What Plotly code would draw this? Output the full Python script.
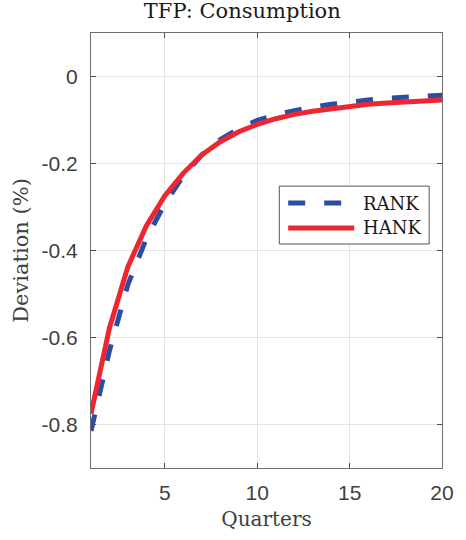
import plotly.graph_objects as go

quarters = list(range(1, 21))
rank = [-0.815, -0.630, -0.478, -0.372, -0.292, -0.228, -0.180, -0.145, -0.120, -0.101,
        -0.088, -0.078, -0.070, -0.064, -0.058, -0.054, -0.050, -0.047, -0.045, -0.043]
hank = [-0.775, -0.578, -0.437, -0.343, -0.274, -0.222, -0.180, -0.150, -0.127, -0.110,
        -0.097, -0.087, -0.080, -0.074, -0.068, -0.064, -0.061, -0.058, -0.056, -0.054]

xticks = [5, 10, 15, 20]
yticks = [0, -0.2, -0.4, -0.6, -0.8]
ytick_text = ["0", "-0.2", "-0.4", "-0.6", "-0.8"]

series_names = ["RANK", "HANK"]
series_colors = ["#2B4EA5", "#EE2631"]
series_dash = ["17px,19px", "solid"]

serif = "DejaVu Serif, Liberation Serif, serif"
sans = "Liberation Sans, Arial, sans-serif"

fig = go.Figure()
for name, ys, color, dash in zip(series_names, [rank, hank], series_colors, series_dash):
    fig.add_trace(go.Scatter(x=quarters, y=ys, mode="lines", name=name,
                             line=dict(color=color, width=5, dash=dash)))

# zero reference line
fig.add_shape(type="line", xref="paper", x0=0, x1=1, yref="y", y0=0, y1=0,
              line=dict(color="black", width=1), layer="below")

# boxed legend with long line samples (paper coordinates)
fig.add_shape(type="rect", xref="paper", yref="paper", x0=0.5365, x1=0.9635, y0=0.515, y1=0.648,
              line=dict(color="#555555", width=1), fillcolor="white", layer="above")
legend_rows = [0.609, 0.552]
for name, color, dash, ly in zip(series_names, series_colors, series_dash, legend_rows):
    fig.add_shape(type="line", xref="paper", yref="paper", x0=0.5618, x1=0.75, y0=ly, y1=ly,
                  line=dict(color=color, width=5, dash=dash), layer="above")
    fig.add_annotation(xref="paper", yref="paper", x=0.768, y=ly, xanchor="left", yanchor="middle",
                       text=name, showarrow=False,
                       font=dict(family=serif, size=18, color="#1a1a1a"))

axis_common = dict(showline=True, linecolor="#6e6e6e", linewidth=1, mirror="allticks",
                   ticks="inside", ticklen=5, tickcolor="#4d4d4d",
                   showgrid=True, gridcolor="#e3e3e3", gridwidth=1, zeroline=False,
                   tickfont=dict(family=sans, size=21, color="#404040"))

fig.update_layout(
    width=466, height=540,
    margin=dict(l=91, r=19, t=33, b=72),
    paper_bgcolor="white", plot_bgcolor="white",
    showlegend=False,
    title=dict(text="TFP: Consumption", x=0.52, xanchor="center", y=0.993, yanchor="top",
               font=dict(family=serif, size=21, color="#1a1a1a")),
    xaxis=dict(range=[1, 20], tickvals=xticks, ticklabelstandoff=6,
               title=dict(text="Quarters", font=dict(family=serif, size=20, color="#404040"), standoff=8),
               **axis_common),
    yaxis=dict(range=[-0.9, 0.1], tickvals=yticks, ticktext=ytick_text, ticklabelstandoff=8,
               title=dict(text="Deviation (%)", font=dict(family=serif, size=21, color="#404040"), standoff=7),
               **axis_common),
)

fig.write_html("out.html")
